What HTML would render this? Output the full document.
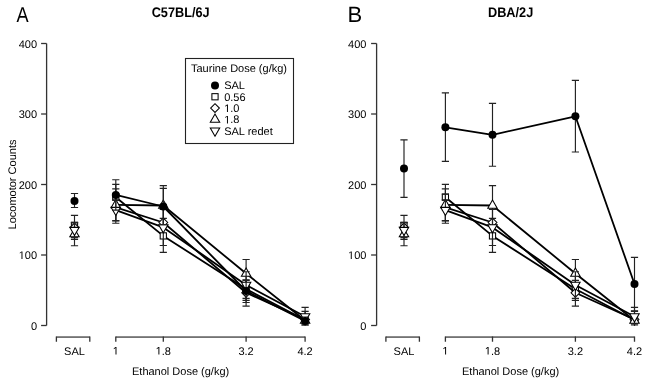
<!DOCTYPE html>
<html><head><meta charset="utf-8"><style>
html,body{margin:0;padding:0;background:#fff;}
body{width:649px;height:384px;overflow:hidden;}
svg{display:block;will-change:transform;text-rendering:geometricPrecision;}
.h{fill:transparent;}
.t{font-family:"Liberation Sans",sans-serif;font-size:11px;fill:#000;}
.ti{font-family:"Liberation Sans",sans-serif;font-size:13.9px;font-weight:bold;fill:#000;}
.big{font-family:"Liberation Sans",sans-serif;font-size:22px;fill:#000;}
.o{fill:#fff;stroke:#000;stroke-width:1.05;}
.e{fill:none;stroke:#222;stroke-width:1.15;}
.l{fill:none;stroke:#000;stroke-width:1.8;stroke-linejoin:round;}
</style></head><body>
<svg width="649" height="384" viewBox="0 0 649 384">
<defs><clipPath id="clip"><rect x="0" y="0" width="649" height="326"/></clipPath></defs>
<text transform="translate(16.5 21.8) scale(0.84 1)" class="big" style="font-size:21.6px">A</text>
<text x="347.5" y="21.6" class="big">B</text>
<text transform="translate(180.6 16.5) scale(0.915 1)" text-anchor="middle" class="ti">C57BL/6J</text>
<text transform="translate(510.6 16.5) scale(0.915 1)" text-anchor="middle" class="ti">DBA/2J</text>
<text transform="translate(15.7 184.5) rotate(-90)" text-anchor="middle" class="t">Locomotor Counts</text>
<text x="180.6" y="375.1" text-anchor="middle" class="t">Ethanol Dose (g/kg)</text>
<text x="510.6" y="375.1" text-anchor="middle" class="t">Ethanol Dose (g/kg)</text>
<path d="M46.6 43.5V325.5" stroke="#333" stroke-width="1.3" fill="none"/>
<path d="M41.1 325.5H46.6" stroke="#333" stroke-width="1.3"/>
<text x="37.1" y="329.5" text-anchor="end" class="t">0</text>
<path d="M41.1 255H46.6" stroke="#333" stroke-width="1.3"/>
<text id="n1" x="37.1" y="259" text-anchor="end" class="t"><tspan class="h">1</tspan>00</text><path d="M515 0V1237L197 1010V1180L530 1409H696V0Z" transform="matrix(0.005371 0 0 -0.005371 18.72 259)" fill="#000"/>
<path d="M41.1 184.5H46.6" stroke="#333" stroke-width="1.3"/>
<text x="37.1" y="188.5" text-anchor="end" class="t">200</text>
<path d="M41.1 114H46.6" stroke="#333" stroke-width="1.3"/>
<text x="37.1" y="118" text-anchor="end" class="t">300</text>
<path d="M41.1 43.5H46.6" stroke="#333" stroke-width="1.3"/>
<text x="37.1" y="47.5" text-anchor="end" class="t">400</text>
<path d="M56.4 337.05H89.8M115.8 337.05H305.1" stroke="#000" stroke-width="1" fill="none"/>
<path d="M56.4 336.6V341.85M89.8 336.6V341.85M115.8 336.6V341.85M163.3 336.6V341.85M246.1 336.6V341.85M305.1 336.6V341.85" stroke="#333" stroke-width="1.3" fill="none"/>
<text x="74.5" y="354.6" text-anchor="middle" class="t">SAL</text>
<text id="n2" x="115.8" y="354.6" text-anchor="middle" class="t"><tspan class="h">1</tspan></text><path d="M515 0V1237L197 1010V1180L530 1409H696V0Z" transform="matrix(0.005371 0 0 -0.005371 112.74 354.6)" fill="#000"/>
<text id="n3" x="163.3" y="354.6" text-anchor="middle" class="t"><tspan class="h">1</tspan>.8</text><path d="M515 0V1237L197 1010V1180L530 1409H696V0Z" transform="matrix(0.005371 0 0 -0.005371 155.64 354.6)" fill="#000"/>
<text x="246.1" y="354.6" text-anchor="middle" class="t">3.2</text>
<text x="305.1" y="354.6" text-anchor="middle" class="t">4.2</text>
<g clip-path="url(#clip)">
<path d="M115.8 184.4V210M112.2 184.4H119.4M112.2 210H119.4" class="e"/>
<path d="M163.3 218.4V252.3M159.7 218.4H166.9M159.7 252.3H166.9" class="e"/>
<path d="M246.1 280.4V306.1M242.5 280.4H249.7M242.5 306.1H249.7" class="e"/>
<polyline points="115.8,197.2 163.3,235.9 246.1,289 305.1,320" class="l"/>
<rect x="71.4" y="222.2" width="6.2" height="6.2" class="o"/>
<rect x="112.7" y="194.1" width="6.2" height="6.2" class="o"/>
<rect x="160.2" y="232.8" width="6.2" height="6.2" class="o"/>
<rect x="243" y="285.9" width="6.2" height="6.2" class="o"/>
<rect x="302" y="316.9" width="6.2" height="6.2" class="o"/>
<path d="M74.5 215.4V239.4M70.9 215.4H78.1M70.9 239.4H78.1" class="e"/>
<path d="M115.8 194.1V220.6M112.2 194.1H119.4M112.2 220.6H119.4" class="e"/>
<path d="M246.1 285.3V300.3M242.5 285.3H249.7M242.5 300.3H249.7" class="e"/>
<polyline points="115.8,207.4 163.3,222.5 246.1,292.8 305.1,319.5" class="l"/>
<path d="M70.11 227.4L74.5 223.01L78.89 227.4L74.5 231.79Z" class="o"/>
<path d="M111.41 207.4L115.8 203.01L120.19 207.4L115.8 211.79Z" class="o"/>
<path d="M158.91 222.5L163.3 218.11L167.69 222.5L163.3 226.89Z" class="o"/>
<path d="M241.71 292.8L246.1 288.41L250.49 292.8L246.1 297.19Z" class="o"/>
<path d="M300.71 319.5L305.1 315.11L309.49 319.5L305.1 323.89Z" class="o"/>
<path d="M74.5 222.5V245.7M70.9 222.5H78.1M70.9 245.7H78.1" class="e"/>
<path d="M115.8 188.85V221M112.2 188.85H119.4M112.2 221H119.4" class="e"/>
<path d="M163.3 185.6V225.4M159.7 185.6H166.9M159.7 225.4H166.9" class="e"/>
<path d="M246.1 259.5V287.5M242.5 259.5H249.7M242.5 287.5H249.7" class="e"/>
<path d="M305.1 311.3V329.7M301.5 311.3H308.7M301.5 329.7H308.7" class="e"/>
<polyline points="115.8,204.9 163.3,205.5 246.1,273.5 305.1,320.5" class="l"/>
<path d="M74.5 228.66L79.21 236.82L69.79 236.82Z" class="o"/>
<path d="M115.8 199.46L120.51 207.62L111.09 207.62Z" class="o"/>
<path d="M163.3 200.06L168.01 208.22L158.59 208.22Z" class="o"/>
<path d="M246.1 268.06L250.81 276.22L241.39 276.22Z" class="o"/>
<path d="M305.1 315.06L309.81 323.22L300.39 323.22Z" class="o"/>
<path d="M74.5 222.8V237.6M70.9 222.8H78.1M70.9 237.6H78.1" class="e"/>
<path d="M115.8 199.8V223.25M112.2 199.8H119.4M112.2 223.25H119.4" class="e"/>
<path d="M163.3 209.3V245.5M159.7 209.3H166.9M159.7 245.5H166.9" class="e"/>
<path d="M246.1 271.7V298.3M242.5 271.7H249.7M242.5 298.3H249.7" class="e"/>
<path d="M305.1 307.4V324.9M301.5 307.4H308.7M301.5 324.9H308.7" class="e"/>
<polyline points="115.8,210.1 163.3,227.4 246.1,285 305.1,316.5" class="l"/>
<path d="M74.5 235.54L79.21 227.38L69.79 227.38Z" class="o"/>
<path d="M115.8 215.54L120.51 207.38L111.09 207.38Z" class="o"/>
<path d="M163.3 232.84L168.01 224.68L158.59 224.68Z" class="o"/>
<path d="M246.1 290.44L250.81 282.28L241.39 282.28Z" class="o"/>
<path d="M305.1 321.94L309.81 313.78L300.39 313.78Z" class="o"/>
<path d="M74.5 193.5V207.5M70.9 193.5H78.1M70.9 207.5H78.1" class="e"/>
<path d="M115.8 179.7V210.1M112.2 179.7H119.4M112.2 210.1H119.4" class="e"/>
<path d="M163.3 188.4V224.6M159.7 188.4H166.9M159.7 224.6H166.9" class="e"/>
<path d="M246.1 279.9V302.5M242.5 279.9H249.7M242.5 302.5H249.7" class="e"/>
<path d="M305.1 317V325M301.5 317H308.7M301.5 325H308.7" class="e"/>
<polyline points="115.8,194.9 163.3,206.5 246.1,291 305.1,321" class="l"/>
<circle cx="74.5" cy="200.9" r="4" fill="#000"/>
<circle cx="115.8" cy="194.9" r="4" fill="#000"/>
<circle cx="163.3" cy="206.5" r="4" fill="#000"/>
<circle cx="246.1" cy="291" r="4" fill="#000"/>
<circle cx="305.1" cy="321" r="4" fill="#000"/>
</g>
<path d="M376.6 43.5V325.5" stroke="#333" stroke-width="1.3" fill="none"/>
<path d="M371.1 325.5H376.6" stroke="#333" stroke-width="1.3"/>
<text x="366.4" y="329.5" text-anchor="end" class="t">0</text>
<path d="M371.1 255H376.6" stroke="#333" stroke-width="1.3"/>
<text id="n4" x="366.4" y="259" text-anchor="end" class="t"><tspan class="h">1</tspan>00</text><path d="M515 0V1237L197 1010V1180L530 1409H696V0Z" transform="matrix(0.005371 0 0 -0.005371 348.02 259)" fill="#000"/>
<path d="M371.1 184.5H376.6" stroke="#333" stroke-width="1.3"/>
<text x="366.4" y="188.5" text-anchor="end" class="t">200</text>
<path d="M371.1 114H376.6" stroke="#333" stroke-width="1.3"/>
<text x="366.4" y="118" text-anchor="end" class="t">300</text>
<path d="M371.1 43.5H376.6" stroke="#333" stroke-width="1.3"/>
<text x="366.4" y="47.5" text-anchor="end" class="t">400</text>
<path d="M385.9 337.05H419.4M445.4 337.05H634.5" stroke="#000" stroke-width="1" fill="none"/>
<path d="M385.9 336.6V341.85M419.4 336.6V341.85M445.4 336.6V341.85M492.5 336.6V341.85M575.4 336.6V341.85M634.5 336.6V341.85" stroke="#333" stroke-width="1.3" fill="none"/>
<text x="404" y="354.6" text-anchor="middle" class="t">SAL</text>
<text id="n5" x="445.4" y="354.6" text-anchor="middle" class="t"><tspan class="h">1</tspan></text><path d="M515 0V1237L197 1010V1180L530 1409H696V0Z" transform="matrix(0.005371 0 0 -0.005371 442.34 354.6)" fill="#000"/>
<text id="n6" x="492.5" y="354.6" text-anchor="middle" class="t"><tspan class="h">1</tspan>.8</text><path d="M515 0V1237L197 1010V1180L530 1409H696V0Z" transform="matrix(0.005371 0 0 -0.005371 484.84 354.6)" fill="#000"/>
<text x="575.4" y="354.6" text-anchor="middle" class="t">3.2</text>
<text x="634.5" y="354.6" text-anchor="middle" class="t">4.2</text>
<g clip-path="url(#clip)">
<path d="M445.4 184.4V210M441.8 184.4H449M441.8 210H449" class="e"/>
<path d="M492.5 218.4V252.3M488.9 218.4H496.1M488.9 252.3H496.1" class="e"/>
<path d="M575.4 280.4V306.1M571.8 280.4H579M571.8 306.1H579" class="e"/>
<polyline points="445.4,197.2 492.5,235.9 575.4,289 634.5,320" class="l"/>
<rect x="400.9" y="222.2" width="6.2" height="6.2" class="o"/>
<rect x="442.3" y="194.1" width="6.2" height="6.2" class="o"/>
<rect x="489.4" y="232.8" width="6.2" height="6.2" class="o"/>
<rect x="572.3" y="285.9" width="6.2" height="6.2" class="o"/>
<rect x="631.4" y="316.9" width="6.2" height="6.2" class="o"/>
<path d="M404 215.4V239.4M400.4 215.4H407.6M400.4 239.4H407.6" class="e"/>
<path d="M445.4 194.1V220.6M441.8 194.1H449M441.8 220.6H449" class="e"/>
<path d="M575.4 285.3V300.3M571.8 285.3H579M571.8 300.3H579" class="e"/>
<polyline points="445.4,207.4 492.5,222.5 575.4,292.8 634.5,319.5" class="l"/>
<path d="M399.61 227.4L404 223.01L408.39 227.4L404 231.79Z" class="o"/>
<path d="M441.01 207.4L445.4 203.01L449.79 207.4L445.4 211.79Z" class="o"/>
<path d="M488.11 222.5L492.5 218.11L496.89 222.5L492.5 226.89Z" class="o"/>
<path d="M571.01 292.8L575.4 288.41L579.79 292.8L575.4 297.19Z" class="o"/>
<path d="M630.11 319.5L634.5 315.11L638.89 319.5L634.5 323.89Z" class="o"/>
<path d="M404 222.5V245.7M400.4 222.5H407.6M400.4 245.7H407.6" class="e"/>
<path d="M445.4 188.85V221M441.8 188.85H449M441.8 221H449" class="e"/>
<path d="M492.5 185.6V225.4M488.9 185.6H496.1M488.9 225.4H496.1" class="e"/>
<path d="M575.4 259.5V287.5M571.8 259.5H579M571.8 287.5H579" class="e"/>
<path d="M634.5 311.3V329.7M630.9 311.3H638.1M630.9 329.7H638.1" class="e"/>
<polyline points="445.4,204.9 492.5,205.5 575.4,273.5 634.5,320.5" class="l"/>
<path d="M404 228.66L408.71 236.82L399.29 236.82Z" class="o"/>
<path d="M445.4 199.46L450.11 207.62L440.69 207.62Z" class="o"/>
<path d="M492.5 200.06L497.21 208.22L487.79 208.22Z" class="o"/>
<path d="M575.4 268.06L580.11 276.22L570.69 276.22Z" class="o"/>
<path d="M634.5 315.06L639.21 323.22L629.79 323.22Z" class="o"/>
<path d="M404 222.8V237.6M400.4 222.8H407.6M400.4 237.6H407.6" class="e"/>
<path d="M445.4 199.8V223.25M441.8 199.8H449M441.8 223.25H449" class="e"/>
<path d="M492.5 209.3V245.5M488.9 209.3H496.1M488.9 245.5H496.1" class="e"/>
<path d="M575.4 271.7V298.3M571.8 271.7H579M571.8 298.3H579" class="e"/>
<path d="M634.5 307.4V324.9M630.9 307.4H638.1M630.9 324.9H638.1" class="e"/>
<polyline points="445.4,210.1 492.5,227.4 575.4,285 634.5,316.5" class="l"/>
<path d="M404 235.54L408.71 227.38L399.29 227.38Z" class="o"/>
<path d="M445.4 215.54L450.11 207.38L440.69 207.38Z" class="o"/>
<path d="M492.5 232.84L497.21 224.68L487.79 224.68Z" class="o"/>
<path d="M575.4 290.44L580.11 282.28L570.69 282.28Z" class="o"/>
<path d="M634.5 321.94L639.21 313.78L629.79 313.78Z" class="o"/>
<path d="M404 139.9V197.3M400.4 139.9H407.6M400.4 197.3H407.6" class="e"/>
<path d="M445.4 92.9V161.4M441.8 92.9H449M441.8 161.4H449" class="e"/>
<path d="M492.5 103.4V166.2M488.9 103.4H496.1M488.9 166.2H496.1" class="e"/>
<path d="M575.4 80.3V152M571.8 80.3H579M571.8 152H579" class="e"/>
<path d="M634.5 257.3V310.7M630.9 257.3H638.1M630.9 310.7H638.1" class="e"/>
<polyline points="445.4,127.3 492.5,134.8 575.4,116.3 634.5,284" class="l"/>
<circle cx="404" cy="168.5" r="4" fill="#000"/>
<circle cx="445.4" cy="127.3" r="4" fill="#000"/>
<circle cx="492.5" cy="134.8" r="4" fill="#000"/>
<circle cx="575.4" cy="116.3" r="4" fill="#000"/>
<circle cx="634.5" cy="284" r="4" fill="#000"/>
</g>
<rect x="185.5" y="58.5" width="108" height="85" fill="#fff" stroke="#222" stroke-width="1.1"/>
<text x="191" y="71.6" class="t">Taurine Dose (g/kg)</text>
<circle cx="215" cy="85.4" r="4" fill="#000"/>
<text x="224.2" y="89.4" class="t">SAL</text>
<rect x="211.9" y="93.65" width="6.2" height="6.2" class="o"/>
<text x="224.2" y="100.75" class="t">0.56</text>
<path d="M210.61 108.1L215 103.71L219.39 108.1L215 112.49Z" class="o"/>
<text id="n7" x="224.2" y="112.1" class="t"><tspan class="h">1</tspan>.0</text><path d="M515 0V1237L197 1010V1180L530 1409H696V0Z" transform="matrix(0.005371 0 0 -0.005371 224.20 112.1)" fill="#000"/>
<path d="M215 114.01L219.71 122.17L210.29 122.17Z" class="o"/>
<text id="n8" x="224.2" y="123.45" class="t"><tspan class="h">1</tspan>.8</text><path d="M515 0V1237L197 1010V1180L530 1409H696V0Z" transform="matrix(0.005371 0 0 -0.005371 224.20 123.45)" fill="#000"/>
<path d="M215 136.24L219.71 128.08L210.29 128.08Z" class="o"/>
<text x="224.2" y="134.8" class="t">SAL redet</text>
</svg>
</body></html>
